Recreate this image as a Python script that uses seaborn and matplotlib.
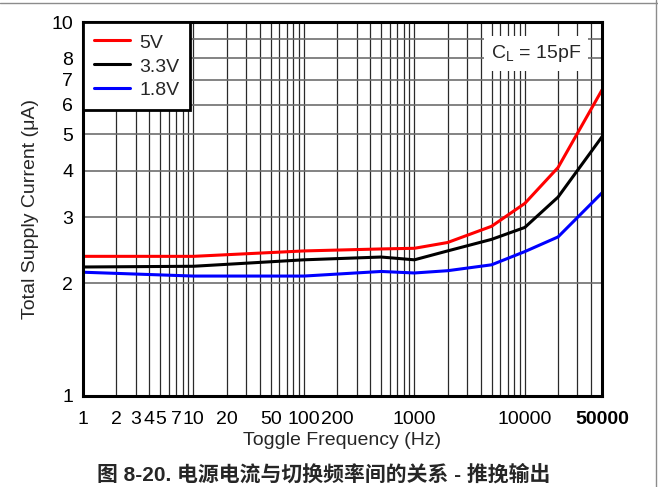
import numpy as np
import pandas as pd
import matplotlib
matplotlib.use("Agg")
import matplotlib.pyplot as plt
from matplotlib.lines import Line2D
import seaborn as sns

# toggle frequency (Hz) and supply current (uA) per supply voltage
freq = [1, 10, 100, 500, 1000, 2000, 5000, 10000, 20000, 50000]
i_5v = [2.36, 2.36, 2.44, 2.47, 2.48, 2.57, 2.84, 3.27, 4.08, 6.58]
i_3v3 = [2.21, 2.22, 2.31, 2.35, 2.31, 2.44, 2.62, 2.82, 3.40, 4.93]
i_1v8 = [2.14, 2.09, 2.09, 2.15, 2.13, 2.16, 2.24, 2.43, 2.66, 3.49]
series = ["5V", "3.3V", "1.8V"]
colores = {"5V": "#ff0000", "3.3V": "#000000", "1.8V": "#0000ff"}

x_labels = [1, 2, 3, 4, 5, 7, 10, 20, 50, 100, 200, 1000, 10000, 50000]
y_labels = [1, 2, 3, 4, 5, 6, 7, 8, 10]

df = pd.DataFrame({
    "freq": freq * 3,
    "corriente": i_5v + i_3v3 + i_1v8,
    "vcc": [s for s in series for _ in freq],
})

sns.set_theme(style="white")
plt.rcParams["font.family"] = ["Liberation Sans", "Noto Sans CJK SC", "DejaVu Sans"]

FS = 14

fig = plt.figure(figsize=(6.58, 4.87), dpi=100)
ax = fig.add_axes([0.1261, 0.1875, 0.7888, 0.7673])

sns.lineplot(data=df, x="freq", y="corriente", hue="vcc", hue_order=series,
             palette=colores, linewidth=2.2, ax=ax, legend=False, zorder=3)

ax.set_xscale("log")
ax.set_yscale("log")
ax.set_xlim(1, 50000)
ax.set_ylim(1, 10)

# grid positions
xgrid = [m * 10 ** d for d in range(5) for m in range(1, 10) if m * 10 ** d <= 50000]
ygrid = [2, 3, 4, 5, 6, 7, 8, 9]
ax.set_xticks(xgrid, minor=True)
ax.set_yticks(ygrid, minor=True)
ax.set_xticks(x_labels)
ax.set_xticklabels([str(v) for v in x_labels])
ax.set_yticks(y_labels)
ax.set_yticklabels([str(v) for v in y_labels])
ax.set_xticklabels([], minor=True)
ax.set_yticklabels([], minor=True)
ax.tick_params(which="both", length=0, labelsize=FS, colors="black")
ax.tick_params(axis="x", pad=11)
ax.tick_params(axis="y", pad=7)
ax.xaxis.get_ticklabels()[-1].set_fontweight("bold")

for v in xgrid:
    ax.axvline(v, color="#2a2a2a", linewidth=0.9, zorder=1)
for v in ygrid:
    ax.axhline(v, color="#6e6e6e", linewidth=1.2, zorder=1)

for s in ax.spines.values():
    s.set_linewidth(2.2)
    s.set_color("black")
    s.set_zorder(5)

ax.set_xlabel("Toggle Frequency (Hz)", fontsize=FS, labelpad=3)
ax.set_ylabel("Total Supply Current (μA)", fontsize=FS)
ax.yaxis.set_label_coords(-0.085, 0.5)

handles = [Line2D([], [], color=colores[s], linewidth=2.2) for s in series]
leg = ax.legend(handles, series, loc="upper left", bbox_to_anchor=(0, 1),
                borderaxespad=0, fontsize=FS, frameon=True, fancybox=False,
                handlelength=1.85, handleheight=1.0, handletextpad=0.5,
                labelspacing=0.22, borderpad=0.55)
leg.get_frame().set_edgecolor("black")
leg.get_frame().set_linewidth(2.0)
leg.get_frame().set_alpha(1)
leg.set_zorder(6)

ax.text(0.96, 0.915, r"C$_\mathregular{L}$ = 15pF", transform=ax.transAxes,
        ha="right", va="center", fontsize=FS, zorder=6,
        bbox=dict(facecolor="white", edgecolor="none", pad=5))

fig.text(324 / 658, 1 - 474 / 487, "图 8-20. 电源电流与切换频率间的关系 - 推挽输出",
         ha="center", va="center", fontsize=15, fontweight="bold")

# page border
fig.add_artist(Line2D([0, 1], [1 - 3 / 487] * 2, transform=fig.transFigure,
                      color="#8c8c8c", linewidth=1))
fig.add_artist(Line2D([656 / 658] * 2, [0, 1], transform=fig.transFigure,
                      color="#8c8c8c", linewidth=1))

fig.savefig("out.png", dpi=100)
